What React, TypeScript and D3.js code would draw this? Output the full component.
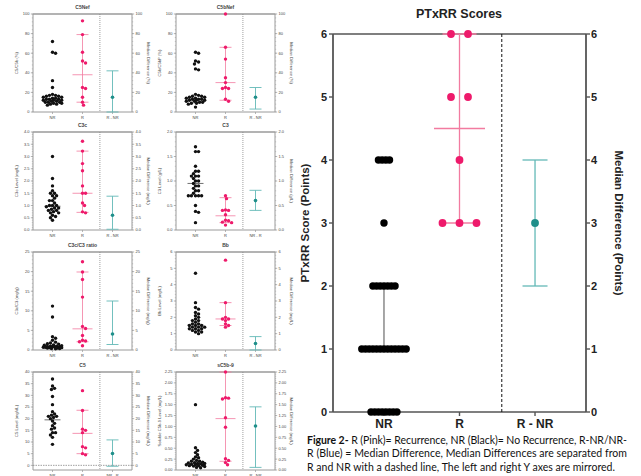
import React from 'react';
import * as d3 from 'd3';

// ---- main chart data (PTxRR scores) ----
const mainCategories = ['NR', 'R', 'R - NR'];
const mainTicks = [0, 1, 2, 3, 4, 5, 6];
const mainNR = [0, 0, 0, 0, 0, 0, 0, 0, 1, 1, 1, 1, 1, 1, 1, 1, 1, 1, 1, 1, 1, 2, 2, 2, 2, 2, 2, 2, 3, 4, 4, 4, 4];
const mainR = [6, 6, 5, 5, 4, 3, 3, 3];
const mainNRBar = [1, 1, 2]; // median, low, high
const mainRBar = [4.5, 3, 6];
const mainDiff = [3, 2, 4];

// ---- small panels data ----
const c5NefNR = [72, 61, 60, 32, 25, 18, 17, 17, 16, 16, 15, 15, 14, 14, 13, 13, 13, 12, 12, 12, 11, 11, 10, 10, 10, 9, 9, 8, 8, 7];
const c5NefR = [93, 79, 61, 52, 50, 25, 24, 15, 10, 7];
const c5NefBars = [12, 38, 10, 79, 15, 0, 42];

const c5bNefNR = [61, 60, 52, 51, 49, 44, 43, 18, 17, 16, 16, 15, 15, 14, 14, 13, 13, 13, 12, 12, 12, 11, 11, 10, 10, 9, 9, 8, 5];
const c5bNefR = [100, 66, 54, 35, 30, 25, 24, 24, 13, 11];
const c5bNefBars = [13, 30, 12, 66, 15, 3, 25];

const c3cNR = [3.0, 2.1, 1.8, 1.6, 1.5, 1.5, 1.4, 1.4, 1.3, 1.2, 1.2, 1.1, 1.0, 1.0, 1.0, 0.95, 0.9, 0.9, 0.85, 0.8, 0.8, 0.75, 0.7, 0.7, 0.6, 0.55, 0.5, 0.4];
const c3cR = [3.62, 3.22, 2.71, 2.42, 1.8, 1.5, 1.5, 1.1, 1.0, 0.74, 0.7];
const c3cBars = [0.97, 1.5, 0.72, 3.22, 0.6, 0.03, 1.38];

const c3NR = [1.7, 1.6, 1.6, 1.3, 1.2, 1.2, 1.15, 1.1, 1.1, 1.1, 1.05, 1.0, 1.0, 0.95, 0.9, 0.9, 0.85, 0.8, 0.8, 0.75, 0.7, 0.7, 0.7, 0.7, 0.7, 0.5, 0.38, 0.36, 0.15];
const c3R = [0.7, 0.64, 0.41, 0.4, 0.4, 0.31, 0.2, 0.19, 0.16, 0.15, 0.1];
const c3Bars = [0.95, 0.29, 0.15, 0.66, 0.6, 0.4, 0.81];

const ratioNR = [11.2, 8.4, 3.4, 3.0, 2.5, 2.0, 1.8, 1.6, 1.5, 1.3, 1.2, 1.1, 1.0, 1.0, 0.9, 0.9, 0.8, 0.8, 0.7, 0.7, 0.6, 0.6, 0.5, 0.5, 0.4, 0.4, 0.3];
const ratioR = [22.5, 19.9, 18, 13.5, 6, 5.5, 3.7, 2.5, 2.3, 2.1, 1.1];
const ratioBars = [0.9, 5.4, 2.1, 19.9, 4.1, 1.4, 12.5];

const bbNR = [4.7, 2.9, 2.6, 2.5, 2.3, 2.2, 2.1, 2.0, 1.9, 1.8, 1.8, 1.7, 1.6, 1.6, 1.5, 1.5, 1.5, 1.4, 1.4, 1.4, 1.3, 1.3, 1.3, 1.2, 1.2, 1.1, 1.1, 1.0];
const bbR = [5.5, 2.9, 2.0, 1.9, 1.9, 1.8, 1.6, 1.5, 1.4];
const bbBars = [1.53, 1.9, 1.5, 2.9, 0.4, 0, 0.82];

const c5NR = [37, 34, 33, 32.5, 29.5, 26, 23, 22, 21.5, 21, 21, 20.5, 20, 19, 18, 17, 16, 15.5, 14, 14, 13, 12, 9];
const c5R = [32, 23.5, 15.5, 15, 14, 8, 7.5, 5, 4.5];
const c5Bars = [19.5, 13.7, 5, 23.6, 5.1, -0.4, 10.9];

const sc5b9NR = [1.5, 0.51, 0.45, 0.4, 0.35, 0.3, 0.28, 0.25, 0.22, 0.2, 0.2, 0.18, 0.17, 0.16, 0.15, 0.15, 0.14, 0.13, 0.12, 0.12, 0.11, 0.1, 0.1, 0.09, 0.08, 0.06, 0.05];
const sc5b9R = [2.25, 1.66, 1.65, 1.63, 1.2, 0.98, 0.26, 0.22, 0.17, 0.12];
const sc5b9Bars = [0.15, 1.18, 0.2, 2.25, 1.01, 0.06, 1.45];

const panels = [
  { title: 'C5Nef', yLabel: 'C5/C5b (%)', rLabel: 'Median Difference (%)', domain: [0, 100], step: 20, fmt: '0', nr: c5NefNR, r: c5NefR, bars: c5NefBars, diffLabel: 'R - NR' },
  { title: 'C5bNef', yLabel: 'C5b/C5bP (%)', rLabel: 'Median Difference (%)', domain: [0, 100], step: 20, fmt: '0', nr: c5bNefNR, r: c5bNefR, bars: c5bNefBars, diffLabel: 'R - NR' },
  { title: 'C3c', yLabel: 'C3c Level (mg/L)', rLabel: 'Median Difference (mg/L)', domain: [0, 4], step: 0.5, fmt: '.1f', nr: c3cNR, r: c3cR, bars: c3cBars, diffLabel: 'R - NR' },
  { title: 'C3', yLabel: 'C3 Level (g/L)', rLabel: 'Median Difference (g/L)', domain: [0, 2], step: 0.5, fmt: '.1f', nr: c3NR, r: c3R, bars: c3Bars, diffLabel: 'NR - R' },
  { title: 'C3c/C3 ratio', yLabel: 'C3c/C3 (mg/g)', rLabel: 'Median Difference (mg/g)', domain: [0, 25], step: 5, fmt: '0', nr: ratioNR, r: ratioR, bars: ratioBars, diffLabel: 'R - NR' },
  { title: 'Bb', yLabel: 'Bb Level (mg/L)', rLabel: 'Median Difference (mg/L)', domain: [0, 6], step: 1, fmt: '0', nr: bbNR, r: bbR, bars: bbBars, diffLabel: 'R - NR' },
  { title: 'C5', yLabel: 'C5 Level (mg/dL)', rLabel: 'Median Difference (mg/dL)', domain: [-2, 40], step: 5, fmt: '0', nr: c5NR, r: c5R, bars: c5Bars, diffLabel: 'NR - R' },
  { title: 'sC5b-9', yLabel: 'Soluble C5b-9 Level (mg/L)', rLabel: 'Median Difference (mg/L)', domain: [0, 2.25], step: 0.25, fmt: '.2f', nr: sc5b9NR, r: sc5b9R, bars: sc5b9Bars, diffLabel: 'R - NR' },
];

const colLeft = [33, 176];
const rowTop = [14, 132, 252, 372];
const panelW = 99;
const panelH = 98;

const PINK = '#ee1a6b';
const PINK_BAR = '#f27ba0';
const TEAL = '#1f8f8a';
const TEAL_BAR = '#63b9b7';

// compact beeswarm: dots may overlap a bit, spread is capped
function swarm(values: number[], y: (v: number) => number, cx: number, r: number, maxHalf: number) {
  const pts = values.map(v => ({ v, y: y(v) })).sort((a, b) => a.y - b.y);
  const placed: { x: number; y: number }[] = [];
  const offs = [0];
  for (let i = 1; i * r * 0.6 <= maxHalf; i++) offs.push(i * r * 0.6, -i * r * 0.6);
  const minD = 1.75 * r;
  for (const p of pts) {
    let best = cx, bestD = -1;
    for (const o of offs) {
      const x = cx + o;
      const d = placed.length ? d3.min(placed, q => Math.hypot(q.x - x, q.y - p.y)) as number : Infinity;
      if (d >= minD) { best = x; bestD = Infinity; break; }
      if (d > bestD) { bestD = d; best = x; }
    }
    placed.push({ x: best, y: p.y });
  }
  return placed;
}

function rows(values: number[], y: (v: number) => number, cx: number, gap: number) {
  const groups = d3.groups(values, v => v);
  const out: { x: number; y: number }[] = [];
  groups.forEach(([v, arr]) => {
    arr.forEach((_, i) => out.push({ x: cx + (i - (arr.length - 1) / 2) * gap, y: y(v) }));
  });
  return out;
}

function ErrBar({ x, y0, y1, ym, cap, mw, color, sw }: any) {
  return (
    <g stroke={color} strokeWidth={sw}>
      <line x1={x} x2={x} y1={y0} y2={y1} />
      <line x1={x - cap / 2} x2={x + cap / 2} y1={y0} y2={y0} />
      <line x1={x - cap / 2} x2={x + cap / 2} y1={y1} y2={y1} />
      {ym != null && <line x1={x - mw / 2} x2={x + mw / 2} y1={ym} y2={ym} />}
    </g>
  );
}

function SmallPanel({ p, left, top }: any) {
  const right = left + panelW;
  const bottom = top + panelH;
  const y = d3.scaleLinear().domain(p.domain).range([bottom, top]);
  const x = d3.scalePoint<string>().domain(['NR', 'R', 'D']).range([left, right]).padding(0.65);
  const step = x.step();
  const dashX = (x('R') as number) + 0.58 * step;
  const start = Math.ceil(p.domain[0] / p.step) * p.step;
  const ticks = d3.range(start, p.domain[1] + 1e-9, p.step);
  const minor = d3.range(start, p.domain[1] + 1e-9, p.step / 5);
  const fmt = d3.format(p.fmt);
  const [nrMed, rMed, rLo, rHi, dMed, dLo, dHi] = p.bars;
  const nrPts = swarm(p.nr, y, x('NR') as number, 1.7, 10);
  const rPts = swarm(p.r, y, x('R') as number, 1.7, 10);
  const axis = '#9a9a9a';
  const cy = (top + bottom) / 2;
  return (
    <g fontFamily="Liberation Sans, Arial, sans-serif" fill="#444">
      <text x={(left + right) / 2} y={top - 5} fontSize={5} fontWeight="bold" textAnchor="middle">{p.title}</text>
      <line x1={left} x2={right} y1={top} y2={top} stroke={axis} strokeWidth={1.3} />
      <line x1={left} x2={right} y1={bottom} y2={bottom} stroke={axis} strokeWidth={1} />
      <line x1={left} x2={left} y1={top} y2={bottom} stroke={axis} strokeWidth={1} />
      <line x1={right} x2={right} y1={top} y2={bottom} stroke={axis} strokeWidth={1} />
      <line x1={dashX} x2={dashX} y1={top} y2={bottom} stroke="#888" strokeWidth={0.8} strokeDasharray="1,1" />
      {p.domain[0] < 0 && (
        <line x1={left} x2={right} y1={y(0)} y2={y(0)} stroke="#888" strokeWidth={0.8} strokeDasharray="1.5,1" />
      )}
      {minor.map((t: number, i: number) => (
        <g key={'m' + i} stroke={axis} strokeWidth={0.5}>
          <line x1={left - 1.2} x2={left} y1={y(t)} y2={y(t)} />
          <line x1={right} x2={right + 1.2} y1={y(t)} y2={y(t)} />
        </g>
      ))}
      {ticks.map((t: number, i: number) => (
        <g key={'t' + i} fontSize={4}>
          <line x1={left - 2.2} x2={left} y1={y(t)} y2={y(t)} stroke={axis} strokeWidth={0.7} />
          <line x1={right} x2={right + 2.2} y1={y(t)} y2={y(t)} stroke={axis} strokeWidth={0.7} />
          <text x={left - 3.5} y={y(t) + 1.4} textAnchor="end">{fmt(t)}</text>
          <text x={right + 3.5} y={y(t) + 1.4}>{fmt(t)}</text>
        </g>
      ))}
      <text transform={`translate(${left - 15},${cy}) rotate(-90)`} fontSize={4.2} textAnchor="middle">{p.yLabel}</text>
      <text transform={`translate(${right + 15},${cy}) rotate(90)`} fontSize={4.2} textAnchor="middle">{p.rLabel}</text>
      {[['NR', 'NR'], ['R', 'R'], ['D', p.diffLabel]].map(([k, lab]) => (
        <g key={k}>
          <line x1={x(k) as number} x2={x(k) as number} y1={bottom} y2={bottom + 2} stroke={axis} strokeWidth={0.7} />
          <text x={x(k) as number} y={bottom + 6.5} fontSize={4} textAnchor="middle">{lab}</text>
        </g>
      ))}
      <ErrBar x={x('R')} y0={y(rLo)} y1={y(rHi)} ym={y(rMed)} cap={12} mw={20} color={PINK_BAR} sw={0.8} />
      <line x1={(x('NR') as number) - 8} x2={(x('NR') as number) + 8} y1={y(nrMed)} y2={y(nrMed)} stroke="#333" strokeWidth={0.7} />
      <ErrBar x={x('D')} y0={y(dLo)} y1={y(dHi)} cap={12} color={TEAL_BAR} sw={0.9} />
      {nrPts.map((d, i) => <circle key={'n' + i} cx={d.x} cy={d.y} r={1.7} fill="#111" />)}
      {rPts.map((d, i) => <circle key={'r' + i} cx={d.x} cy={d.y} r={1.7} fill={PINK} />)}
      <circle cx={x('D') as number} cy={y(dMed)} r={1.8} fill={TEAL} />
    </g>
  );
}

function MainChart() {
  const left = 333, right = 586, top = 34, bottom = 412;
  const y = d3.scaleLinear().domain([0, 6]).range([bottom, top]);
  const x = d3.scalePoint<string>().domain(mainCategories).range([left, right]).padding(0.675);
  const xNR = x('NR') as number, xR = x('R') as number, xD = x('R - NR') as number;
  const dashX = xR + 0.56 * x.step();
  const nrPts = rows(mainNR, y, xNR, 3.7);
  const rPts = rows(mainR, y, xR, 17);
  const axis = '#555';
  const cy = (top + bottom) / 2;
  return (
    <g fontFamily="Liberation Sans, Arial, sans-serif" fontWeight="bold" fill="#222">
      <text x={459} y={18} fontSize={12.5} textAnchor="middle">PTxRR Scores</text>
      <line x1={left} x2={right} y1={top} y2={top} stroke={axis} strokeWidth={1.6} />
      <line x1={left} x2={right} y1={bottom} y2={bottom} stroke={axis} strokeWidth={1.6} />
      <line x1={left} x2={left} y1={top} y2={bottom} stroke={axis} strokeWidth={1.8} />
      <line x1={right} x2={right} y1={top} y2={bottom} stroke={axis} strokeWidth={1.8} />
      <line x1={dashX} x2={dashX} y1={top} y2={bottom} stroke="#111" strokeWidth={1} strokeDasharray="3,2" />
      {mainTicks.map(t => (
        <g key={t} fontSize={11}>
          <line x1={left - 4} x2={left} y1={y(t)} y2={y(t)} stroke={axis} strokeWidth={1.4} />
          <line x1={right} x2={right + 4} y1={y(t)} y2={y(t)} stroke={axis} strokeWidth={1.4} />
          <text x={left - 6} y={y(t) + 4} textAnchor="end">{t}</text>
          <text x={right + 5} y={y(t) + 4}>{t}</text>
        </g>
      ))}
      {mainCategories.map(c => (
        <g key={c}>
          <line x1={x(c) as number} x2={x(c) as number} y1={bottom} y2={bottom + 4} stroke={axis} strokeWidth={1.4} />
          <text x={x(c) as number} y={bottom + 16} fontSize={12} textAnchor="middle">{c}</text>
        </g>
      ))}
      <text transform={`translate(${left - 24},${cy}) rotate(-90)`} fontSize={11.5} textAnchor="middle">PTxRR Score (Points)</text>
      <text transform={`translate(${right + 29},${cy}) rotate(90)`} fontSize={11.5} textAnchor="middle">Median Difference (Points)</text>
      <line x1={xNR} x2={xNR} y1={y(mainNRBar[1])} y2={y(mainNRBar[2])} stroke="#777" strokeWidth={1.3} />
      <ErrBar x={xR} y0={y(mainRBar[1])} y1={y(mainRBar[2])} ym={y(mainRBar[0])} cap={34} mw={51} color={PINK_BAR} sw={1.3} />
      <ErrBar x={xD} y0={y(mainDiff[1])} y1={y(mainDiff[2])} cap={25} color={TEAL_BAR} sw={1.3} />
      {nrPts.map((d, i) => <circle key={'n' + i} cx={d.x} cy={d.y} r={3.7} fill="#000" />)}
      {rPts.map((d, i) => <circle key={'r' + i} cx={d.x} cy={d.y} r={3.9} fill={PINK} />)}
      <circle cx={xD} cy={y(mainDiff[0])} r={3.9} fill={TEAL} />
    </g>
  );
}

function Caption() {
  const f = 'Lato, "Open Sans", sans-serif';
  return (
    <g fontFamily={f} fontSize={10.5} fill="#111">
      <text x={307} y={444} textLength={320} lengthAdjust="spacing">
        <tspan fontWeight="bold">Figure 2-</tspan> R (Pink)= Recurrence, NR (Black)= No Recurrence, R-NR/NR-
      </text>
      <text x={307} y={457} textLength={320} lengthAdjust="spacing">
        R (Blue) = Median Difference, Median Differences are separated from
      </text>
      <text x={307} y={471} textLength={308} lengthAdjust="spacing">
        R and NR with a dashed line, The left and right Y axes are mirrored.
      </text>
    </g>
  );
}

export default function App() {
  return (
    <svg width={641} height={476} style={{ position: 'absolute', left: 0, top: 0, background: '#fff' }}>
      {panels.map((p, i) => (
        <SmallPanel key={i} p={p} left={colLeft[i % 2]} top={rowTop[Math.floor(i / 2)]} />
      ))}
      <MainChart />
      <Caption />
    </svg>
  );
}
